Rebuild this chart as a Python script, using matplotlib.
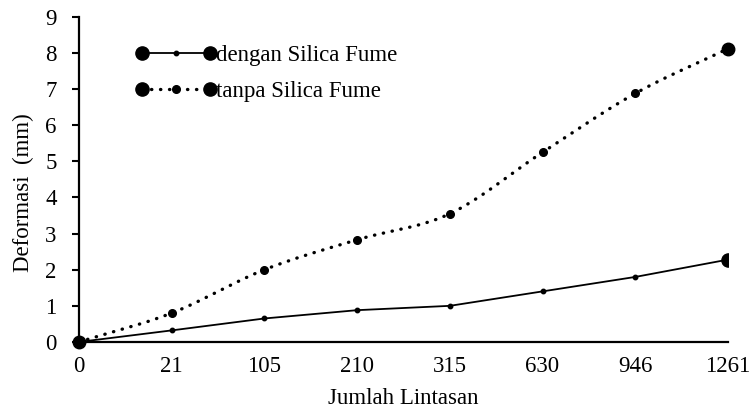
import numpy as np
import matplotlib
matplotlib.use("Agg")
import matplotlib.pyplot as plt
from matplotlib.lines import Line2D
from matplotlib.legend_handler import HandlerTuple, HandlerLine2D

plt.rcParams['font.family'] = ['Liberation Serif', 'DejaVu Serif']

# data
lintasan = ['0', '21', '105', '210', '315', '630', '946', '1261']
dengan_sf = [0.0, 0.32, 0.65, 0.88, 1.0, 1.4, 1.8, 2.28]
tanpa_sf = [0.0, 0.8, 2.0, 2.83, 3.55, 5.25, 6.88, 8.12]

FS = 16.5


def smooth(x, y, n=20):
    # Catmull-Rom curve through the points (like Excel's smoothed line)
    x = np.asarray(x, float)
    y = np.asarray(y, float)
    px = np.concatenate([[2 * x[0] - x[1]], x, [2 * x[-1] - x[-2]]])
    py = np.concatenate([[2 * y[0] - y[1]], y, [2 * y[-1] - y[-2]]])
    xs, ys = [], []
    t = np.linspace(0, 1, n, endpoint=False)
    for i in range(1, len(px) - 2):
        for p, out in ((px, xs), (py, ys)):
            p0, p1, p2, p3 = p[i - 1], p[i], p[i + 1], p[i + 2]
            out.extend(0.5 * (2 * p1 + (-p0 + p2) * t
                              + (2 * p0 - 5 * p1 + 4 * p2 - p3) * t ** 2
                              + (-p0 + 3 * p1 - 3 * p2 + p3) * t ** 3))
    xs.append(x[-1])
    ys.append(y[-1])
    return np.array(xs), np.array(ys)


fig = plt.figure(figsize=(7.52, 4.12), dpi=100)
ax = fig.add_axes([0.105, 0.170, 0.863, 0.789])

pos = np.arange(len(lintasan))

# dengan Silica Fume: solid line, small markers, big end marker
ax.plot(pos, dengan_sf, color='black', lw=1.3, marker='o', ms=3.2, zorder=3)
ax.plot(pos[-1], dengan_sf[-1], 'o', color='black', ms=9.5, zorder=4, clip_on=True)

# tanpa Silica Fume: smoothed dotted line
sx, sy = smooth(pos, tanpa_sf)
ax.plot(sx, sy, color='black', lw=2.4, linestyle=(0, (0.1, 2.6)),
        dash_capstyle='round', zorder=3)
ax.plot(pos[1:-1], tanpa_sf[1:-1], 'o', color='black', ms=5.5, zorder=4)
ax.plot([pos[0], pos[-1]], [tanpa_sf[0], tanpa_sf[-1]], 'o', color='black',
        ms=9, zorder=4, clip_on=False)

ax.set_xlim(0, 7)
ax.set_ylim(0, 9)
ax.set_xticks(pos)
ax.set_xticklabels(lintasan)
ax.set_yticks(range(0, 10))
ax.tick_params(axis='x', length=0, labelsize=FS, pad=10)
ax.tick_params(axis='y', length=5, width=1.5, labelsize=FS, direction='out', pad=11)
for s in ['top', 'right']:
    ax.spines[s].set_visible(False)
for s in ['left', 'bottom']:
    ax.spines[s].set_linewidth(1.6)

ax.set_xlabel('Jumlah Lintasan', fontsize=FS, labelpad=8)
ax.set_ylabel('Deformasi  (mm)', fontsize=FS)
ax.yaxis.set_label_coords(-0.069, 0.458)

# legend: big markers at both ends, small marker in the middle
big1 = Line2D([], [], color='black', lw=1.3, marker='o', ms=9.5)
mid1 = Line2D([], [], color='black', lw=0, marker='o', ms=3.2)
big2 = Line2D([], [], color='black', lw=2.4, linestyle=(0, (0.1, 2.6)),
              dash_capstyle='round', marker='o', ms=9.5)
mid2 = Line2D([], [], color='black', lw=0, marker='o', ms=5.5)
ax.legend([(big1, mid1), (big2, mid2)],
          ['dengan Silica Fume', 'tanpa Silica Fume'],
          handler_map={tuple: HandlerTuple(ndivide=1, pad=0),
                       big1: HandlerLine2D(numpoints=2, marker_pad=0),
                       big2: HandlerLine2D(numpoints=2, marker_pad=0),
                       mid1: HandlerLine2D(numpoints=1),
                       mid2: HandlerLine2D(numpoints=1)},
          loc='upper left', bbox_to_anchor=(0.066, 0.976), frameon=False,
          fontsize=FS, handlelength=2.95, handletextpad=0.25, labelspacing=0.65)

fig.savefig('out.png', dpi=100)
